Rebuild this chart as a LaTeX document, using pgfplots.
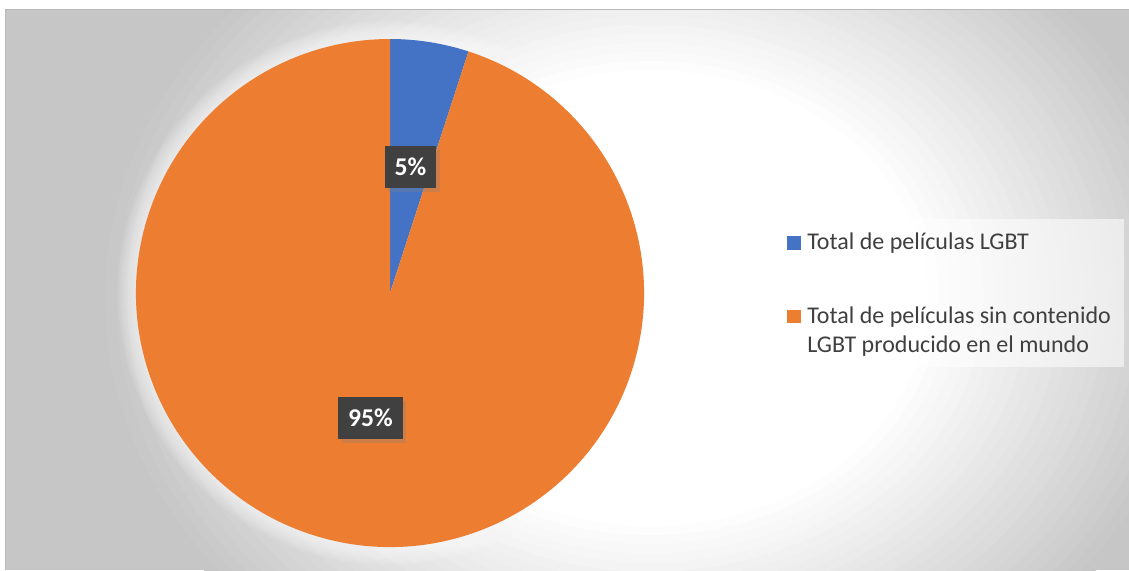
\documentclass[border=0pt]{standalone}
\usepackage{pgfplots}
\pgfplotsset{compat=1.18}
\usepackage{pgfplotstable}
\usepackage{fontspec}
\setmainfont{Carlito}
\usetikzlibrary{shadows}
\definecolor{pieblue}{HTML}{4472C4}
\definecolor{pieorange}{HTML}{ED7D31}
\definecolor{bgout}{HTML}{C6C6C6}
\definecolor{lblbg}{HTML}{404040}
\definecolor{legtext}{HTML}{3F3F3F}

\pgfplotstableread{
label share
LGBT 5
Resto 95
}\piedata

\begin{document}
\begin{tikzpicture}
\pgfplotstablegetelem{0}{share}\of\piedata \global\let\sa\pgfplotsretval
\pgfplotstablegetelem{1}{share}\of\piedata \global\let\sb\pgfplotsretval
\pgfmathsetmacro{\total}{\sa+\sb}
\pgfmathsetmacro{\angA}{360*\sa/\total}
\pgfmathsetmacro{\angB}{360-\angA}
\pgfmathsetmacro{\angAe}{90-\angA}
\pgfmathtruncatemacro{\pa}{round(100*\sa/\total)}
\pgfmathtruncatemacro{\pb}{round(100*\sb/\total)}
\begin{axis}[name=ax, x=0.5pt, y=0.5pt, xmin=0, xmax=1129, ymin=0, ymax=570,
  y dir=reverse, hide axis, clip=false, scale only axis]
 % background
 \fill[bgout] (axis cs:0,0) rectangle (axis cs:1129,570);
 \begin{scope}
  \clip (axis cs:0,0) rectangle (axis cs:1129,570);
  \pgfplotsinvokeforeach{100,96,...,0}{
    \fill[bgout!#1!white] (axis cs:650,298) ellipse [x radius={(0.5+0.005*#1)*278pt}, y radius={(0.5+0.005*#1)*228pt}];
  }
 \end{scope}
 \fill[white] (axis cs:0,0) rectangle (axis cs:1129,9);
 \fill[white] (axis cs:0,0) rectangle (axis cs:5,570);
 \draw[gray!55, line width=0.6pt] (axis cs:5.3,570) -- (axis cs:5.3,9.5) -- (axis cs:1129,9.5);
 % glow around pie
 \pgfplotsinvokeforeach{1,...,9}{
   \fill[white, opacity=0.09] (axis cs:390,293) circle [radius={127pt+#1*1.0pt}];
 }
 % pie wedges
 \fill[pieblue] (axis cs:390,293) -- ++(90:127pt) arc[start angle=90, delta angle=-\angA, radius=127pt] -- cycle;
 \fill[pieorange] (axis cs:390,293) -- ++(\angAe:127pt) arc[start angle=\angAe, delta angle=-\angB, radius=127pt] -- cycle;
 % data labels
 \tikzset{lbl/.style={fill=lblbg, text=white, font=\bfseries\fontsize{12.8}{15}\selectfont,
   minimum height=21pt, inner xsep=5pt, inner ysep=0pt,
   drop shadow={shadow xshift=1.8pt, shadow yshift=-1.8pt, opacity=0.3}}}
 \node[lbl] at (axis cs:410.5,167) {\pa\%};
 \node[lbl] at (axis cs:370.5,418) {\pb\%};
 % legend
 \fill[white, opacity=0.55] (axis cs:774,219) rectangle (axis cs:1124,367);
 \fill[pieblue] (axis cs:787,236) rectangle (axis cs:801,249.5);
 \fill[pieorange] (axis cs:787,309.5) rectangle (axis cs:801,323);
 \tikzset{leg/.style={anchor=base west, inner sep=0pt, text=legtext, font=\fontsize{12}{14}\selectfont}}
 \node[leg] at (axis cs:807,249) {Total de películas LGBT};
 \node[leg] at (axis cs:807,323) {Total de películas sin contenido};
 \node[leg] at (axis cs:807,352) {LGBT producido en el mundo};
\end{axis}
\pgfresetboundingbox
\useasboundingbox (ax.south west) rectangle (ax.north east);
\end{tikzpicture}
\end{document}
